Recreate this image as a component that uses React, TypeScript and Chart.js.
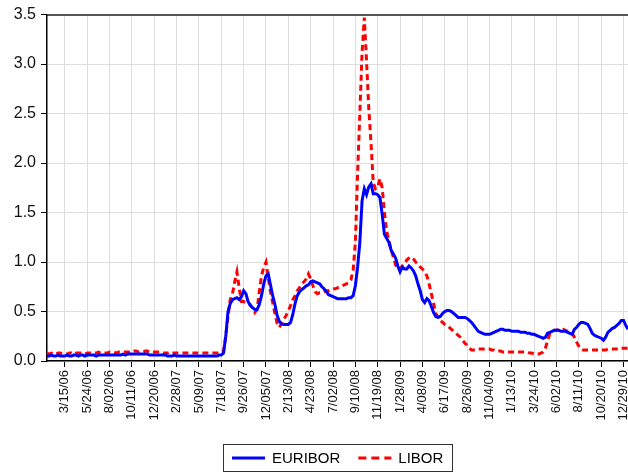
import React, { useEffect, useRef } from 'react';
import { Chart, registerables } from 'chart.js';

Chart.register(...registerables);

const FONT = '"Liberation Sans", Arial, Helvetica, sans-serif';

// Weekly observations (Wednesdays), first week 1/18/06
const startYear = 2006;
const startMonth = 0;
const startDay = 18;
const weekCount = 261;
const firstLabelIndex = 8; // 3/15/06
const labelEvery = 10;

const yTickValues = [0, 0.5, 1.0, 1.5, 2.0, 2.5, 3.0, 3.5];

const seriesNames = ['EURIBOR', 'LIBOR'];
const seriesColors = ['#0000ff', '#ff0000'];

const euribor: number[] = [
  // 1/18/06 .. 7/11/07
  0.05, 0.05, 0.06, 0.05, 0.05, 0.06, 0.05, 0.05, 0.05, 0.06,
  0.05, 0.05, 0.06, 0.06, 0.05, 0.06, 0.06, 0.05, 0.06, 0.06,
  0.06, 0.06, 0.05, 0.06, 0.06, 0.06, 0.06, 0.06, 0.06, 0.06,
  0.06, 0.06, 0.06, 0.06, 0.07, 0.06, 0.07, 0.07, 0.07, 0.07,
  0.07, 0.07, 0.07, 0.07, 0.07, 0.07, 0.06, 0.06, 0.06, 0.06,
  0.06, 0.06, 0.06, 0.06, 0.05, 0.05, 0.05, 0.06, 0.05, 0.05,
  0.05, 0.05, 0.05, 0.05, 0.05, 0.05, 0.05, 0.05, 0.05, 0.05,
  0.05, 0.05, 0.05, 0.05, 0.05, 0.05, 0.05, 0.06,
  // 7/18/07 ..
  0.06, 0.08, 0.25, 0.50, 0.58, 0.62, 0.63, 0.64, 0.62, 0.65,
  0.71, 0.68, 0.60, 0.56, 0.54, 0.52, 0.52, 0.57, 0.66, 0.78,
  0.86, 0.88, 0.77, 0.66, 0.57, 0.46, 0.40, 0.375, 0.37, 0.37,
  0.37, 0.39, 0.47, 0.58, 0.66, 0.70, 0.72, 0.74, 0.76, 0.77,
  0.80, 0.81, 0.80, 0.79, 0.78, 0.75, 0.73, 0.70, 0.67, 0.66,
  0.65, 0.64, 0.63, 0.63, 0.63, 0.63, 0.63, 0.64, 0.64, 0.66,
  0.76, 0.95, 1.20, 1.62, 1.74, 1.68, 1.76, 1.79, 1.69, 1.69,
  1.68, 1.65, 1.48, 1.28, 1.24, 1.20, 1.12, 1.08, 1.04, 0.96,
  0.90, 0.95, 0.93, 0.93, 0.96, 0.94, 0.91, 0.86, 0.78, 0.71,
  0.62, 0.59, 0.63, 0.61, 0.55, 0.49, 0.45, 0.44, 0.45, 0.48,
  0.50, 0.51, 0.51, 0.50, 0.48, 0.46, 0.44, 0.44, 0.44, 0.44,
  0.43, 0.41, 0.39, 0.36, 0.33, 0.30, 0.29, 0.28, 0.27, 0.27,
  0.27, 0.28, 0.29, 0.30, 0.31, 0.32, 0.32, 0.31, 0.31, 0.31,
  0.30, 0.30, 0.30, 0.30, 0.29, 0.29, 0.29, 0.28, 0.28, 0.27,
  0.27, 0.26, 0.25, 0.24, 0.23, 0.24, 0.28, 0.29, 0.30, 0.31,
  0.31, 0.31, 0.30, 0.30, 0.30, 0.29, 0.28, 0.27, 0.32, 0.34,
  0.37, 0.39, 0.39, 0.38, 0.37, 0.33, 0.28, 0.26, 0.25, 0.24,
  0.23, 0.21, 0.24, 0.29, 0.31, 0.33, 0.34, 0.36, 0.38, 0.41,
  0.41, 0.36, 0.32,
];

const libor: number[] = [
  // 1/18/06 .. 7/11/07
  0.08, 0.07, 0.08, 0.07, 0.07, 0.08, 0.08, 0.07, 0.07, 0.07,
  0.08, 0.08, 0.07, 0.08, 0.08, 0.08, 0.08, 0.07, 0.08, 0.08,
  0.08, 0.08, 0.08, 0.09, 0.08, 0.08, 0.08, 0.08, 0.09, 0.09,
  0.09, 0.08, 0.09, 0.09, 0.09, 0.09, 0.09, 0.09, 0.09, 0.10,
  0.10, 0.09, 0.09, 0.09, 0.10, 0.10, 0.09, 0.09, 0.09, 0.09,
  0.09, 0.09, 0.08, 0.08, 0.08, 0.09, 0.08, 0.08, 0.08, 0.08,
  0.08, 0.08, 0.08, 0.08, 0.08, 0.08, 0.08, 0.08, 0.08, 0.08,
  0.08, 0.08, 0.08, 0.08, 0.08, 0.08, 0.08, 0.08,
  // 7/18/07 ..
  0.09, 0.10, 0.25, 0.45, 0.62, 0.68, 0.80, 0.90, 0.74, 0.60,
  0.60, 0.59, 0.58, 0.57, 0.53, 0.49, 0.52, 0.70, 0.86, 0.95,
  1.00, 0.84, 0.70, 0.59, 0.48, 0.38, 0.34, 0.38, 0.42, 0.46,
  0.51, 0.56, 0.62, 0.66, 0.71, 0.74, 0.78, 0.80, 0.83, 0.88,
  0.83, 0.76, 0.70, 0.68, 0.69, 0.69, 0.70, 0.71, 0.71, 0.72,
  0.73, 0.73, 0.74, 0.75, 0.76, 0.77, 0.78, 0.79, 0.82, 0.92,
  1.20, 1.90, 2.50, 3.12, 3.47, 3.03, 2.55, 2.20, 1.80, 1.74,
  1.76, 1.84, 1.75, 1.50, 1.31, 1.22, 1.12, 1.05, 0.97, 0.93,
  0.93, 0.96, 0.98, 1.02, 1.04, 1.05, 1.03, 1.00, 0.98, 0.95,
  0.93, 0.90, 0.86, 0.78, 0.68, 0.58, 0.48, 0.44, 0.41, 0.39,
  0.37, 0.36, 0.34, 0.32, 0.30, 0.28, 0.26, 0.24, 0.21, 0.18,
  0.16, 0.13, 0.11, 0.11, 0.11, 0.12, 0.12, 0.12, 0.12, 0.12,
  0.12, 0.11, 0.11, 0.10, 0.10, 0.10, 0.09, 0.09, 0.09, 0.09,
  0.09, 0.09, 0.09, 0.09, 0.09, 0.09, 0.09, 0.09, 0.08, 0.08,
  0.07, 0.07, 0.07, 0.08, 0.09, 0.13, 0.20, 0.28, 0.30, 0.31,
  0.31, 0.32, 0.32, 0.32, 0.31, 0.30, 0.30, 0.28, 0.24, 0.19,
  0.15, 0.12, 0.11, 0.11, 0.11, 0.11, 0.11, 0.11, 0.11, 0.11,
  0.11, 0.11, 0.11, 0.12, 0.12, 0.12, 0.12, 0.12, 0.12, 0.13,
  0.13, 0.13, 0.13,
];

function makeWeeklyLabels(): string[] {
  const out: string[] = [];
  const t0 = Date.UTC(startYear, startMonth, startDay);
  for (let i = 0; i < weekCount; i++) {
    const d = new Date(t0 + i * 7 * 86400000);
    const m = d.getUTCMonth() + 1;
    const dd = String(d.getUTCDate()).padStart(2, '0');
    const yy = String(d.getUTCFullYear() % 100).padStart(2, '0');
    out.push(`${m}/${dd}/${yy}`);
  }
  return out;
}

const weekLabels = makeWeeklyLabels();

const framePlugin = {
  id: 'frameTop',
  afterDatasetsDraw(chart: any) {
    const { ctx, chartArea } = chart;
    ctx.save();
    ctx.strokeStyle = '#222';
    ctx.lineWidth = 1.5;
    ctx.beginPath();
    ctx.moveTo(chartArea.left, chartArea.top + 0.5);
    ctx.lineTo(chartArea.right, chartArea.top + 0.5);
    ctx.stroke();
    ctx.restore();
  },
};

const boxLegendPlugin = {
  id: 'boxLegend',
  afterDraw(chart: any) {
    const { ctx, chartArea } = chart;
    const datasets = chart.data.datasets;
    ctx.save();
    ctx.font = `15px ${FONT}`;
    const padL = 9;
    const padR = 9;
    const lineW = 33;
    const gapLineText = 7;
    const gapItems = 18;
    const widths = datasets.map((ds: any) => ctx.measureText(ds.label).width);
    let total = padL + padR;
    widths.forEach((w: number, i: number) => {
      total += lineW + gapLineText + w + (i > 0 ? gapItems : 0);
    });
    const cx = (chartArea.left + chartArea.right) / 2;
    const x0 = Math.round(cx - total / 2);
    const y0 = 444;
    const h = 27;
    ctx.strokeStyle = '#333';
    ctx.lineWidth = 1;
    ctx.strokeRect(x0 + 0.5, y0 + 0.5, Math.round(total), h);
    const cy = y0 + h / 2 + 0.5;
    let x = x0 + padL;
    datasets.forEach((ds: any, i: number) => {
      if (i > 0) x += gapItems;
      ctx.beginPath();
      ctx.strokeStyle = ds.borderColor;
      ctx.lineWidth = 3;
      ctx.setLineDash(ds.borderDash ? [8, 5] : []);
      ctx.moveTo(x, cy);
      ctx.lineTo(x + lineW, cy);
      ctx.stroke();
      ctx.setLineDash([]);
      x += lineW + gapLineText;
      ctx.fillStyle = '#000';
      ctx.textBaseline = 'middle';
      ctx.textAlign = 'left';
      ctx.fillText(ds.label, x, cy + 1);
      x += widths[i];
    });
    ctx.restore();
  },
};

export default function App() {
  const canvasRef = useRef<HTMLCanvasElement | null>(null);

  useEffect(() => {
    const canvas = canvasRef.current;
    if (!canvas) return;
    Chart.defaults.font.family = FONT;
    const chart = new Chart(canvas, {
      type: 'line',
      data: {
        labels: weekLabels,
        datasets: [
          {
            label: seriesNames[0],
            data: euribor,
            borderColor: seriesColors[0],
            backgroundColor: seriesColors[0],
            borderWidth: 3,
            pointRadius: 0,
            tension: 0,
            fill: false,
          },
          {
            label: seriesNames[1],
            data: libor,
            borderColor: seriesColors[1],
            backgroundColor: seriesColors[1],
            borderWidth: 3,
            borderDash: [6, 4],
            pointRadius: 0,
            tension: 0,
            fill: false,
          },
        ],
      },
      options: {
        responsive: false,
        animation: false,
        devicePixelRatio: 1,
        layout: { padding: { top: 13, right: 0, left: 0, bottom: 0 } },
        plugins: {
          legend: { display: false },
          tooltip: { enabled: false },
        },
        scales: {
          x: {
            type: 'category',
            offset: false,
            grid: {
              color: '#dddddd',
              lineWidth: 1,
              tickColor: '#000',
              tickLength: 6,
            },
            border: { color: '#000', width: 1.5 },
            ticks: {
              autoSkip: false,
              minRotation: 90,
              maxRotation: 90,
              padding: 3,
              color: '#111',
              font: { size: 13, family: FONT },
              callback: (_v: any, i: number) =>
                i >= firstLabelIndex && (i - firstLabelIndex) % labelEvery === 0
                  ? weekLabels[i]
                  : null,
            },
            afterFit: (s: any) => {
              s.height = 113;
              s.paddingLeft = 0;
              s.paddingRight = 0;
            },
          },
          y: {
            min: yTickValues[0],
            max: yTickValues[yTickValues.length - 1],
            afterBuildTicks: (s: any) => {
              s.ticks = yTickValues.map((v) => ({ value: v }));
            },
            grid: {
              color: '#dddddd',
              lineWidth: 1,
              tickColor: '#000',
              tickLength: 6,
            },
            border: { color: '#000', width: 1.5 },
            ticks: {
              padding: 5,
              color: '#111',
              font: { size: 16, family: FONT },
              callback: (v: any) => Number(v).toFixed(1),
            },
            afterFit: (s: any) => {
              s.width = 47;
            },
          },
        },
      },
      plugins: [framePlugin, boxLegendPlugin],
    } as any);
    return () => chart.destroy();
  }, []);

  return (
    <div style={{ position: 'absolute', left: 0, top: 0, width: 628, height: 474, background: '#fff' }}>
      <canvas ref={canvasRef} width={628} height={474} style={{ display: 'block', width: 628, height: 474 }} />
    </div>
  );
}
